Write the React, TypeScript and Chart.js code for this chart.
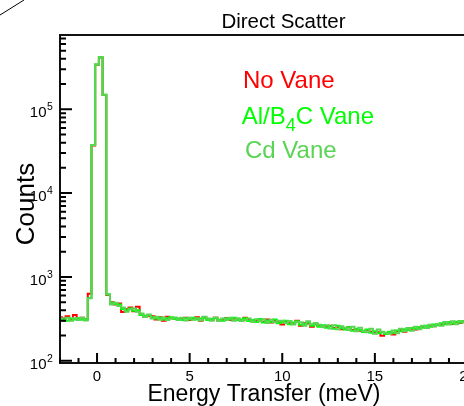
import React, { useEffect, useRef } from "react";
import { Chart, registerables } from "chart.js";

Chart.register(...registerables);

// Histogram binning (bin centres, meV)
const BIN_START = -2.0;
const BIN_WIDTH = 0.2;

// Counts per bin
const noVane = [
  330, 318, 340, 305, 350, 315, 325, 312, 630, 37000,
  340000, 414000, 148000, 610, 500, 470, 480, 380, 410, 430,
  390, 440, 355, 335, 345, 340, 310, 330, 300, 335,
  320, 322, 312, 318, 325, 305, 318, 330, 300, 330,
  312, 308, 325, 300, 310, 322, 305, 318, 312, 300,
  325, 305, 295, 298, 305, 292, 310, 285, 300, 288,
  270, 295, 280, 278, 300, 262, 280, 278, 255, 275,
  260, 258, 252, 262, 245, 255, 238, 242, 250, 232,
  235, 228, 225, 232, 222, 215, 218, 198, 212, 215,
  205, 225, 232, 222, 238, 240, 235, 248, 255, 245,
  265, 258, 272, 268, 280, 285, 275, 290, 282, 292,
  298, 290, 302, 298, 305,
];

const alB4CVane = [
  305, 312, 300, 318, 310, 322, 308, 315, 560, 37500,
  343000, 418000, 149000, 620, 490, 475, 470, 415, 400, 420,
  395, 400, 350, 345, 350, 330, 318, 325, 310, 322,
  330, 315, 318, 305, 320, 312, 325, 310, 318, 322,
  305, 315, 320, 308, 300, 318, 312, 325, 305, 310,
  320, 298, 305, 290, 315, 285, 300, 292, 310, 280,
  290, 300, 272, 285, 295, 268, 275, 285, 262, 270,
  255, 265, 248, 258, 240, 262, 245, 235, 250, 228,
  240, 232, 220, 235, 215, 225, 212, 218, 208, 222,
  215, 230, 225, 238, 232, 245, 240, 252, 248, 262,
  255, 270, 265, 280, 272, 288, 278, 292, 285, 298,
  290, 302, 295, 305, 300,
];

const cdVane = [
  322, 298, 325, 300, 322, 305, 325, 302, 555, 37500,
  343000, 418000, 149000, 615, 470, 492, 450, 430, 385, 412,
  420, 385, 365, 332, 355, 318, 335, 308, 328, 305,
  318, 328, 305, 325, 302, 325, 308, 322, 302, 335,
  318, 300, 328, 298, 318, 305, 325, 300, 322, 298,
  305, 318, 292, 312, 298, 312, 282, 308, 288, 300,
  300, 282, 298, 270, 290, 288, 262, 295, 272, 282,
  268, 252, 265, 242, 265, 238, 258, 248, 232, 255,
  225, 248, 228, 218, 240, 210, 235, 222, 215, 210,
  230, 212, 240, 225, 245, 228, 255, 238, 262, 245,
  268, 258, 275, 262, 290, 270, 295, 272, 298, 285,
  305, 288, 308, 292, 310,
];

const seriesNames = ["No Vane", "Al/B4C Vane", "Cd Vane"];
const seriesColors = ["#ff0000", "#00ff00", "#59d454"];
const seriesDrawOrder = [3, 2, 1]; // higher drawn first (underneath)

// Axes
const X_MIN = -2;
const X_MAX = 21;
const Y_MIN = 93.9;
const Y_MAX = 770000;
const xMajorTicks = [0, 5, 10, 15, 20];
const xMinorStep = 1;
const yDecades = [100, 1000, 10000, 100000];
const yDecadeExponents = ["2", "3", "4", "5"];

const TITLE = "Direct Scatter";
const X_TITLE = "Energy Transfer (meV)";
const Y_TITLE = "Counts";

const FONT = "'Liberation Sans', Arial, Helvetica, sans-serif";

const toPoints = (vals: number[]) =>
  vals.map((y, i) => ({ x: BIN_START + i * BIN_WIDTH, y }));

const rootStyle = {
  id: "rootStyle",
  afterDatasetsDraw(chart: any) {
    const ctx = chart.ctx as CanvasRenderingContext2D;
    const { left, right, top, bottom } = chart.chartArea;
    const xs = chart.scales.x;
    const ys = chart.scales.y;
    ctx.save();
    // frame
    ctx.strokeStyle = "#111";
    ctx.lineWidth = 2;
    ctx.strokeRect(left, top, right - left, bottom - top);
    // ticks
    ctx.lineWidth = 2;
    ctx.strokeStyle = "#000";
    ctx.beginPath();
    for (let v = Math.ceil(X_MIN); v <= X_MAX; v += xMinorStep) {
      const px = xs.getPixelForValue(v);
      const len = xMajorTicks.includes(v) ? 10 : 5;
      ctx.moveTo(px, bottom);
      ctx.lineTo(px, bottom - len);
    }
    for (const d of [...yDecades, 1000000]) {
      for (let m = 1; m <= 9; m++) {
        const v = m * d;
        if (v < Y_MIN || v > Y_MAX) continue;
        const py = ys.getPixelForValue(v);
        const len = m === 1 ? 12 : 6;
        ctx.moveTo(left, py);
        ctx.lineTo(left + len, py);
      }
    }
    ctx.stroke();
    ctx.restore();
  },
  afterDraw(chart: any) {
    const ctx = chart.ctx as CanvasRenderingContext2D;
    const xs = chart.scales.x;
    const ys = chart.scales.y;
    ctx.save();
    ctx.fillStyle = "#000";
    ctx.textBaseline = "alphabetic";

    // stray line at top-left corner
    ctx.strokeStyle = "#000";
    ctx.lineWidth = 1;
    ctx.beginPath();
    ctx.moveTo(0, 15);
    ctx.lineTo(24, 0);
    ctx.stroke();

    // title
    ctx.font = `20.5px ${FONT}`;
    ctx.textAlign = "center";
    ctx.fillText(TITLE, 283.5, 27.5);

    // x tick labels
    ctx.font = `15px ${FONT}`;
    ctx.textAlign = "center";
    for (const v of xMajorTicks) {
      ctx.fillText(String(v), xs.getPixelForValue(v), 381);
    }

    // y tick labels 10^n
    yDecades.forEach((d, i) => {
      const py = ys.getPixelForValue(d);
      ctx.font = `15px ${FONT}`;
      ctx.textAlign = "right";
      ctx.fillText("10", 46.5, py + 8);
      ctx.font = `10.5px ${FONT}`;
      ctx.textAlign = "left";
      ctx.fillText(yDecadeExponents[i], 47, py + 1);
    });

    // axis titles
    ctx.font = `23px ${FONT}`;
    ctx.textAlign = "center";
    ctx.fillText(X_TITLE, 264, 401);

    ctx.save();
    ctx.translate(33.5, 204);
    ctx.rotate(-Math.PI / 2);
    ctx.font = `26px ${FONT}`;
    ctx.textAlign = "center";
    ctx.fillText(Y_TITLE, 0, 0);
    ctx.restore();

    // legend
    ctx.textAlign = "left";
    ctx.font = `24px ${FONT}`;
    ctx.fillStyle = seriesColors[0];
    ctx.fillText(seriesNames[0], 243, 88);

    ctx.fillStyle = seriesColors[1];
    let x = 241.7;
    ctx.fillText("Al/B", x, 124);
    x += ctx.measureText("Al/B").width;
    ctx.font = `18px ${FONT}`;
    ctx.fillText("4", x, 131);
    x += ctx.measureText("4").width;
    ctx.font = `24px ${FONT}`;
    ctx.fillText("C Vane", x, 124);

    ctx.fillStyle = seriesColors[2];
    ctx.fillText(seriesNames[2], 245, 157.5);
    ctx.restore();
  },
};

export default function App() {
  const ref = useRef<HTMLCanvasElement | null>(null);

  useEffect(() => {
    if (!ref.current) return;
    const series = [noVane, alB4CVane, cdVane];
    const chart = new Chart(ref.current, {
      type: "line",
      data: {
        datasets: series.map((vals, i) => ({
          label: seriesNames[i],
          data: toPoints(vals),
          borderColor: seriesColors[i],
          backgroundColor: seriesColors[i],
          borderWidth: 2,
          pointRadius: 0,
          stepped: "middle" as const,
          fill: false,
          order: seriesDrawOrder[i],
        })),
      },
      options: {
        responsive: false,
        animation: false,
        devicePixelRatio: 1,
        layout: { padding: { left: 60, top: 35, right: 34, bottom: 43 } },
        scales: {
          x: { type: "linear", min: X_MIN, max: X_MAX, display: false },
          y: { type: "logarithmic", min: Y_MIN, max: Y_MAX, display: false },
        },
        plugins: {
          legend: { display: false },
          tooltip: { enabled: false },
          title: { display: false },
        },
      },
      plugins: [rootStyle],
    });
    return () => chart.destroy();
  }, []);

  return (
    <div
      style={{
        position: "fixed",
        left: 0,
        top: 0,
        width: 464,
        height: 406,
        overflow: "hidden",
        background: "#fff",
      }}
    >
      <canvas ref={ref} width={520} height={406} style={{ display: "block" }} />
    </div>
  );
}
